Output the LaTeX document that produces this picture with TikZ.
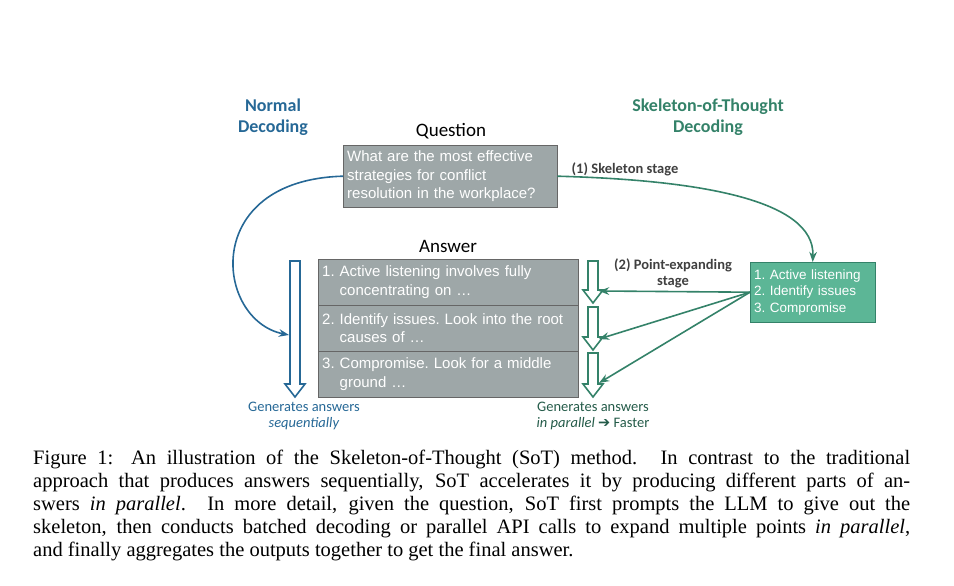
\documentclass[tikz,border=0pt]{standalone}
\usepackage{fontspec}
\setmainfont{Liberation Serif}
\setsansfont{Liberation Sans}
\newfontfamily\calib{Carlito}
\usetikzlibrary{arrows.meta, positioning}
\definecolor{normalblue}{RGB}{38,104,150}
\definecolor{sotgreen}{RGB}{52,130,105}
\definecolor{boxgray}{RGB}{158,167,168}
\definecolor{skelfill}{RGB}{92,182,150}
% hollow down arrow: x, top, bottom
\newcommand\hollowdown[3]{%
  (#1-5,#2) -- (#1+5,#2) -- (#1+5,#3-13) -- (#1+10,#3-13) -- (#1,#3) -- (#1-10,#3-13) -- (#1-5,#3-13) -- cycle}

\begin{document}
\frenchspacing
\begin{tikzpicture}[x=1pt, y=-1pt,
    textbox/.style={rectangle, draw=black!60, fill=boxgray, text=white, align=left, font=\sffamily\fontsize{15}{18.5}\selectfont, inner sep=3pt, anchor=north west},
    title/.style={align=center, font=\calib\bfseries\fontsize{18}{20.5}\selectfont},
    hollow/.style={line width=1.6pt, fill=white, line join=miter},
    arrow/.style={-{Stealth}, line width=1.6pt}
]
\useasboundingbox (0,0) rectangle (954,586);

\node[title, text=normalblue] (normal) at (273,117) {Normal\\Decoding};
\node[title, text=sotgreen] (sot) at (708,117) {Skeleton-of-Thought\\Decoding};
\node[font=\calib\fontsize{19}{20}\selectfont] (qlabel) at (451,131) {Question};
\node[font=\calib\fontsize{19}{20}\selectfont] (alabel) at (448,246) {Answer};

\node[textbox, minimum width=214pt, minimum height=62pt, text width=206pt] (question) at (343,145) {What are the most effective\\strategies for conflict\\resolution in the workplace?};

\node[textbox, minimum width=260pt, minimum height=46pt, text width=252pt] (ans1) at (318,259) {1. Active listening involves fully\\\phantom{1. }concentrating on \dots};
\node[textbox, minimum width=260pt, minimum height=46pt, text width=252pt] (ans2) at (318,305) {2. Identify issues. Look into the root\\\phantom{2. }causes of \dots};
\node[textbox, minimum width=260pt, minimum height=46pt, text width=252pt] (ans3) at (318,351) {3. Compromise. Look for a middle\\\phantom{3. }ground \dots};

\node[textbox, draw=sotgreen, fill=skelfill, minimum width=125pt, minimum height=60pt, text width=117pt, font=\sffamily\fontsize{13.5}{16.5}\selectfont] (skeleton) at (750,262) {1. Active listening\\2. Identify issues\\3. Compromise};

% hollow arrows
\draw[hollow, draw=normalblue] \hollowdown{295}{261}{397};
\draw[hollow, draw=sotgreen] \hollowdown{593}{261}{303};
\draw[hollow, draw=sotgreen] \hollowdown{593}{307}{350};
\draw[hollow, draw=sotgreen] \hollowdown{593}{353}{397};
\coordinate (seqin) at (289,335);
\coordinate (parin1) at (599,291);
\coordinate (parin2) at (599,339);
\coordinate (parin3) at (599,383);

% connectors
\draw[arrow, normalblue] (question.west) .. controls (200,180) and (215,320) .. (seqin);
\draw[arrow, sotgreen] (question.east) .. controls (700,180) and (815,200) .. (skeleton.north);
\draw[arrow, sotgreen] (skeleton.west) -- (parin1);
\draw[arrow, sotgreen] (skeleton.west) -- (parin2);
\draw[arrow, sotgreen] (skeleton.west) -- (parin3);

\node[font=\calib\bfseries\fontsize{14.5}{16}\selectfont, text=black!75] (skelstage) at (625,169) {(1) Skeleton stage};
\node[font=\calib\bfseries\fontsize{14.5}{16}\selectfont, text=black!75, align=center] (pointstage) at (673,273) {(2) Point-expanding\\stage};

\node[font=\calib\fontsize{14.5}{16}\selectfont, text=normalblue, align=center] (seqnote) at (304,416) {Generates answers\\\textit{sequentially}};
\node[font=\calib\fontsize{14.5}{16}\selectfont, text=sotgreen!70!black, align=center] (parnote) at (593,416) {Generates answers\\\textit{in parallel} {\fontspec{DejaVu Sans}\textbf{➔}} Faster};

\node[anchor=north west, text width=877pt, align=justify, inner sep=0pt, font=\fontsize{20.5}{23}\selectfont] (caption) at (33,450) {\nonfrenchspacing Figure 1: An illustration of the Skeleton-of-Thought (SoT) method. In contrast to the traditional\linebreak approach that produces answers sequentially, SoT accelerates it by producing different parts of an-\linebreak swers \textit{in parallel}. In more detail, given the question, SoT first prompts the LLM to give out the\linebreak skeleton, then conducts batched decoding or parallel API calls to expand multiple points \textit{in parallel},\linebreak and finally aggregates the outputs together to get the final answer.};
\end{tikzpicture}
\end{document}
